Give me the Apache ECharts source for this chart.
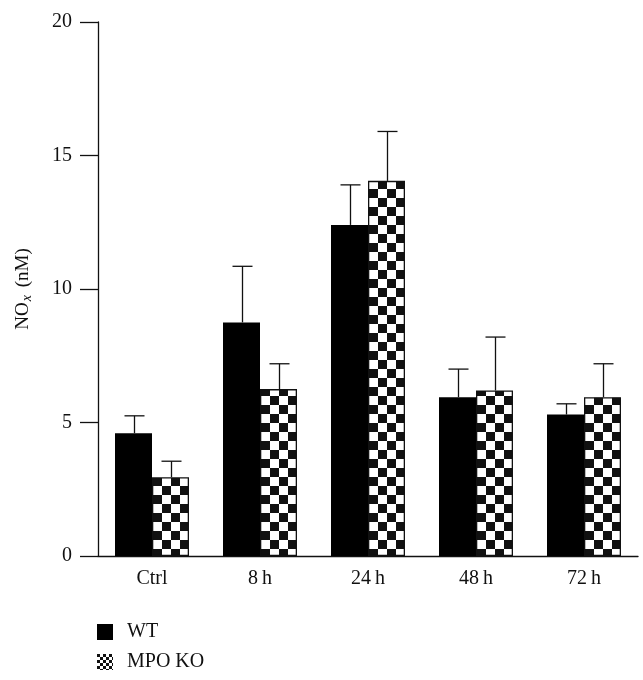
<!DOCTYPE html>
<html><head><meta charset="utf-8">
<script src="https://cdn.jsdelivr.net/npm/echarts@6/dist/echarts.min.js"></script>
<style>html,body{margin:0;padding:0;background:#fff}#c{width:643px;height:680px}</style>
</head><body><div id="c"></div>
<script>
var categories = ['Ctrl', '8\u2009h', '24\u2009h', '48\u2009h', '72\u2009h'];
var wtValues = [4.6, 8.75, 12.4, 5.95, 5.3];
var wtErrTop = [5.25, 10.85, 13.9, 7.0, 5.7];
var koValues = [2.95, 6.25, 14.05, 6.2, 5.95];
var koErrTop = [3.55, 7.2, 15.9, 8.2, 7.2];
var yTicks = [0, 5, 10, 15, 20];

function checker(size) {
  var c = document.createElement('canvas');
  c.width = size * 2; c.height = size * 2;
  var g = c.getContext('2d');
  g.fillStyle = '#fff'; g.fillRect(0, 0, size * 2, size * 2);
  g.fillStyle = '#111';
  g.fillRect(0, 0, size, size);
  g.fillRect(size, size, size, size);
  return c;
}
var pat = {image: checker(9), repeat: 'repeat'};
var patSmall = {image: checker(3), repeat: 'repeat'};

var BW = 37;
function errSeries(name, tops, vals, offset) {
  return {
    type: 'custom', name: name + ' err', silent: true, z: 1,
    data: tops.map(function (t, i) { return [i, vals[i], t]; }),
    renderItem: function (params, api) {
      var base = api.coord([api.value(0), api.value(1)]);
      var top = api.coord([api.value(0), api.value(2)]);
      var x = Math.round(base[0] + offset) + 0.5;
      var st = {stroke: '#111', lineWidth: 1.3};
      return {type: 'group', children: [
        {type: 'line', shape: {x1: x, y1: base[1], x2: x, y2: top[1]}, style: st},
        {type: 'line', shape: {x1: x - 10, y1: top[1], x2: x + 10, y2: top[1]}, style: st}
      ]};
    }
  };
}

var font = 'Liberation Serif';
var chart = echarts.init(document.getElementById('c'));
chart.setOption({
  animation: false,
  textStyle: {fontFamily: font},
  grid: {left: 98, top: 22, right: 5, bottom: 124},
  legend: {
    orient: 'vertical', left: 92, top: 617, itemWidth: 16, itemHeight: 16, itemGap: 10,
    icon: 'rect',
    data: [{name: 'WT', itemStyle: {color: '#000'}},
           {name: 'MPO KO', itemStyle: {color: patSmall, borderWidth: 0}}],
    textStyle: {fontFamily: font, fontSize: 20, color: '#111', padding: [0, 0, 0, 9]}
  },
  xAxis: {
    type: 'category', data: categories,
    axisLine: {lineStyle: {color: '#111', width: 1.3}},
    axisTick: {show: false},
    axisLabel: {color: '#111', fontSize: 20, fontFamily: font, margin: 13}
  },
  yAxis: {
    type: 'value', min: 0, max: 20, interval: 5,
    name: '{a|NO}{b|x}{a| (nM)}', nameLocation: 'middle', nameGap: 64, nameRotate: 90,
    nameTextStyle: {rich: {
      a: {fontFamily: font, fontSize: 19, color: '#111'},
      b: {fontFamily: font, fontSize: 14, fontStyle: 'italic', color: '#111', padding: [7, 3, 0, 1]}
    }},
    splitLine: {show: false},
    axisLine: {show: true, lineStyle: {color: '#111', width: 1.3}},
    axisTick: {show: true, length: 18, lineStyle: {color: '#111', width: 1.3}},
    axisLabel: {color: '#111', fontSize: 20, fontFamily: font, margin: 26,
      formatter: function (v) { return yTicks.indexOf(v) >= 0 ? String(v) : ''; }}
  },
  series: [
    {type: 'bar', name: 'WT', data: wtValues, barWidth: BW, barGap: '0%', z: 2,
      itemStyle: {color: '#000'}},
    {type: 'bar', name: 'MPO KO', data: koValues, barWidth: BW, barGap: '0%', z: 2,
      itemStyle: {color: pat, borderColor: '#111', borderWidth: 1.3}},
    errSeries('WT', wtErrTop, wtValues, -BW / 2),
    errSeries('MPO KO', koErrTop, koValues, BW / 2)
  ]
});
</script></body></html>
